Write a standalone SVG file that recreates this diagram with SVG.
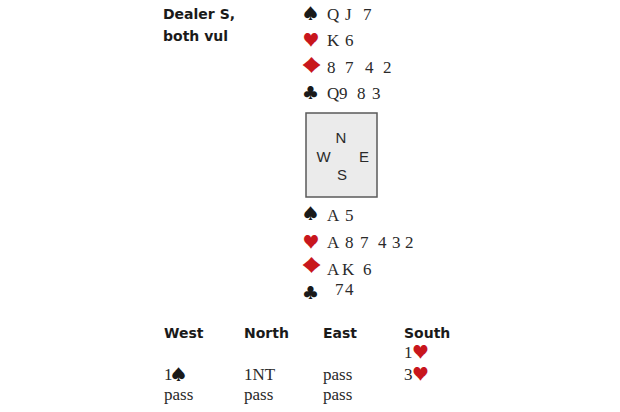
<svg xmlns="http://www.w3.org/2000/svg" width="620" height="412" viewBox="0 0 620 412">
<style>
.hd{font-family:"DejaVu Sans",sans-serif;font-weight:bold;font-size:14px;fill:#1a1a1a}
.cd{font-family:"Liberation Serif",serif;font-size:17px;fill:#2a2a2a}
.st{font-family:"Noto Sans CJK JP","DejaVu Sans",sans-serif;font-size:15px;text-anchor:middle}
.ht{font-family:"Noto Sans CJK JP","DejaVu Sans",sans-serif;font-size:16.5px;text-anchor:middle}
.dm{font-family:"Noto Sans CJK JP","DejaVu Sans",sans-serif;font-size:17px;text-anchor:middle}
.bk{fill:#1a1a1a}
.rd{fill:#c8161d}
.cp{font-family:"Liberation Sans",sans-serif;font-size:15px;fill:#2a2a2a;text-anchor:middle}
</style>
<rect width="620" height="412" fill="#ffffff"/>
<g id="info">
<text class="hd" x="163" y="19">Dealer S,</text>
<text class="hd" x="163" y="41">both vul</text>
</g>
<g id="north">
<text class="st bk" x="310.5" y="18.5">♠</text>
<text class="cd" x="327 340 345 354 363" y="20">Q J 7</text>
<text class="ht rd" x="311" y="45.5">♥</text>
<text class="cd" x="327 339 345" y="46">K 6</text>
<text class="dm rd" transform="translate(311.5,72) scale(1.45,1)">♦</text>
<text class="cd" x="327 336 345 354 365 374 383" y="73">8 7 4 2</text>
<text class="st bk" x="310.5" y="97.5">♣</text>
<text class="cd" x="327 339 348 357 366 372" y="99">Q9 8 3</text>
</g>
<g id="compass">
<rect x="306" y="113" width="71" height="84" fill="#ebebeb" stroke="#5a5a5a" stroke-width="1.5"/>
<text class="cp" x="341" y="143">N</text>
<text class="cp" x="323.5" y="162">W</text>
<text class="cp" x="364" y="162">E</text>
<text class="cp" x="342" y="180">S</text>
</g>
<g id="south">
<text class="st bk" x="310.5" y="218.5">♠</text>
<text class="cd" x="327 339 345" y="221">A 5</text>
<text class="ht rd" x="311" y="247.5">♥</text>
<text class="cd" x="327 340 345 354 360 369 378 387 392 400 405" y="248">A 8 7 4 3 2</text>
<text class="dm rd" transform="translate(311.5,271.5) scale(1.45,1)">♦</text>
<text class="cd" x="327 338 342 354 363" y="275">A K 6</text>
<text class="st bk" x="310.5" y="297.5">♣</text>
<text class="cd" x="335 343 345" y="295">7 4</text>
</g>
<g id="auction">
<text class="hd" x="164" y="338">West</text>
<text class="hd" x="244" y="338">North</text>
<text class="hd" x="323" y="338">East</text>
<text class="hd" x="404" y="338">South</text>
<text class="cd" x="404" y="358">1<tspan class="ht rd" x="420.5">♥</tspan></text>
<text class="cd" x="164" y="380">1<tspan class="st bk" x="178.5">♠</tspan></text>
<text class="cd" x="244" y="380">1NT</text>
<text class="cd" x="323" y="380">pass</text>
<text class="cd" x="404" y="380">3<tspan class="ht rd" x="420.5">♥</tspan></text>
<text class="cd" x="164" y="400">pass</text>
<text class="cd" x="244" y="400">pass</text>
<text class="cd" x="323" y="400">pass</text>
</g>
</svg>
